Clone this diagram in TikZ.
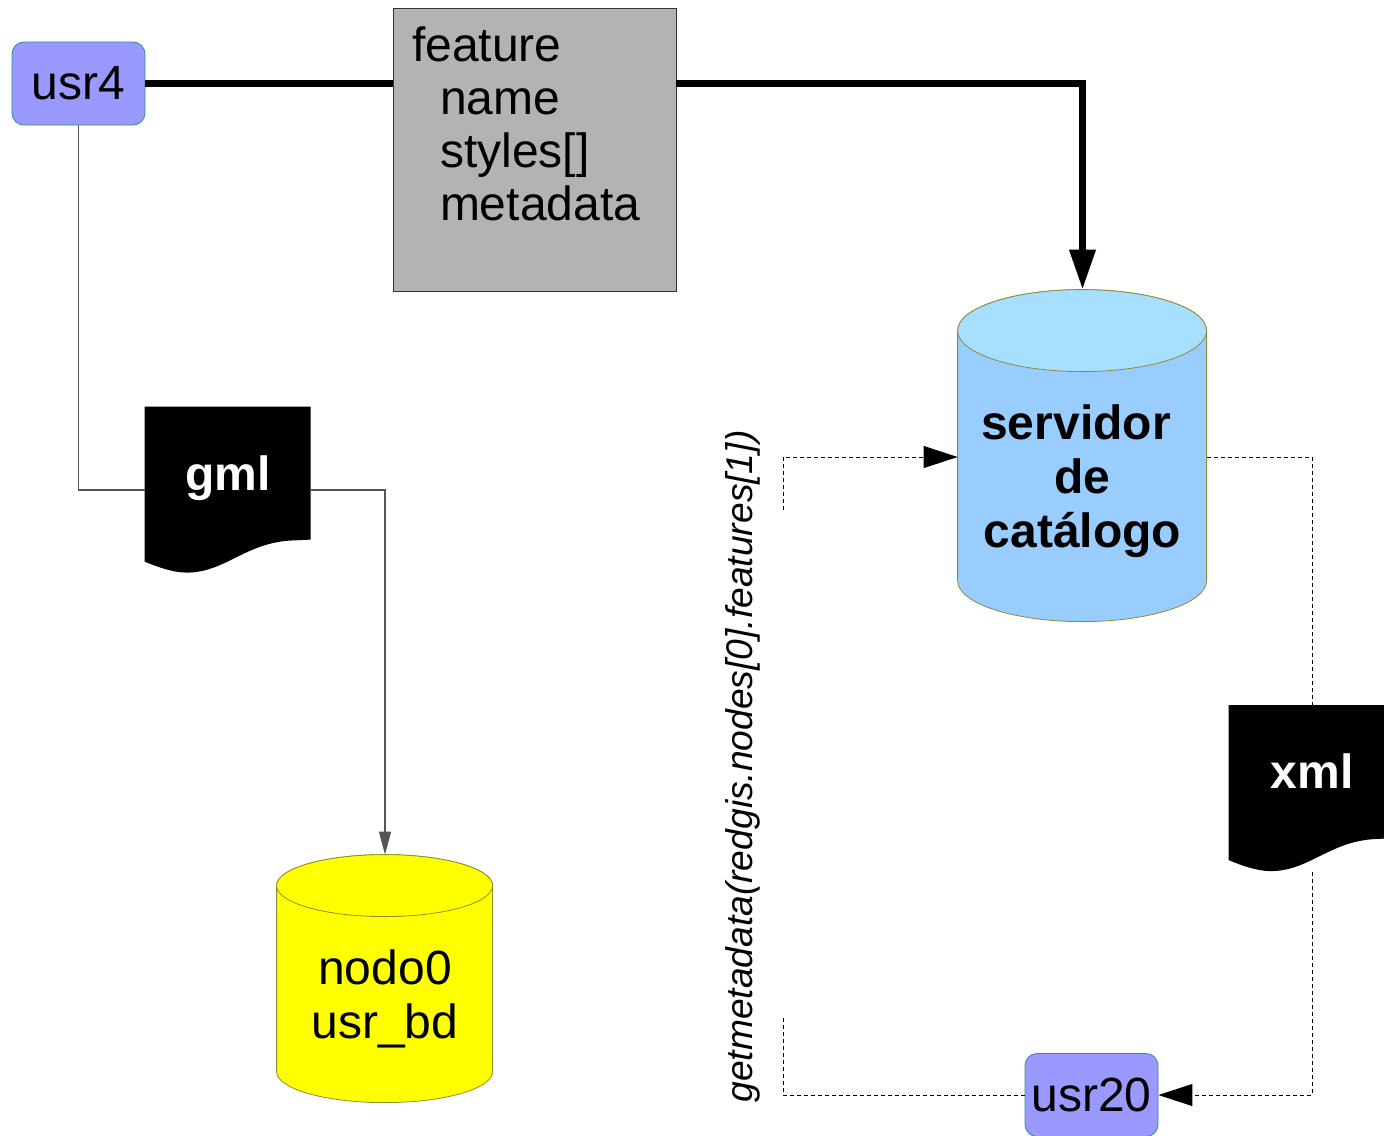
\documentclass[tikz,border=0pt]{standalone}
\usepackage{fontspec}
\setmainfont{Liberation Sans}
\usetikzlibrary{arrows.meta, backgrounds}
\definecolor{usrfill}{HTML}{9999FF}
\definecolor{usrline}{HTML}{338899}
\definecolor{featfill}{HTML}{B3B3B3}
\definecolor{featline}{HTML}{333333}
\definecolor{servbody}{HTML}{99CCFF}
\definecolor{servtop}{HTML}{A6DFFF}
\definecolor{dbyellow}{HTML}{FFFF00}
\definecolor{dbline}{HTML}{8C8C33}
\definecolor{thingray}{HTML}{555555}
\tikzstyle{usr} = [rectangle, rounded corners=6pt, minimum width=66.5pt, minimum height=41.5pt, inner sep=2pt, fill=usrfill, draw=usrline, font=\fontsize{24}{28}\selectfont]
\tikzstyle{featbox} = [rectangle, minimum width=141.5pt, minimum height=141.5pt, fill=featfill, draw=featline]
\tikzstyle{db} = [rectangle, inner sep=0pt]
\tikzstyle{doc} = [rectangle, minimum width=83pt, minimum height=83pt, inner sep=0pt, text=white, font=\bfseries\fontsize{24}{28}\selectfont, text height=0pt, text depth=0pt]
\tikzstyle{thickarrow} = [line width=3.5pt, -{Triangle[length=20pt,width=12.5pt]}]
\tikzstyle{thinline} = [thingray, line width=0.7pt]
\tikzstyle{thinarrow} = [thinline, -{Triangle[length=11.5pt,width=6pt]}]
\tikzstyle{dotline} = [line width=0.5pt, dash pattern=on 2pt off 1.5pt]
\tikzstyle{dotarrow} = [dotline, -{Triangle[length=17pt,width=11pt]}]
% cylinder: node, width, height, cap radius (px), body and top colours
\newcommand{\dbdraw}[6]{%
  \begin{scope}[shift={(#1.north west)}]
    \filldraw[fill=#5, draw=dbline] (0,#4) -- (0,#3-#4) arc[start angle=180, end angle=360, x radius=#2*0.25pt, y radius=#4*0.5pt] -- (#2,#4) arc[start angle=0, end angle=180, x radius=#2*0.25pt, y radius=#4*0.5pt] -- cycle;
    \filldraw[fill=#6, draw=dbline] (#2/2,#4) ellipse[x radius=#2*0.25pt, y radius=#4*0.5pt];
  \end{scope}}
% document sheet with wavy bottom
\newcommand{\docdraw}[1]{%
  \fill[black, shift={(#1.north west)}] (0,0) -- (166,0) -- (166,133) -- (145,134) .. controls (100,137) and (80,166) .. (42,166) .. controls (28,166) and (12,160) .. (0,155) -- cycle;}

\begin{document}
\begin{tikzpicture}[x=0.5pt, y=-0.5pt]
\useasboundingbox (0,0) rectangle (1384,1135);

\node (usr4) [usr] at (78.5,83.5) {usr4};
\node (feat) [featbox] at (534.5,149.5) {};
\node (feattxt) [anchor=north west, inner sep=0pt, align=left, font=\fontsize{24}{26.5}\selectfont] at ([xshift=9.5pt,yshift=-9.5pt]feat.north west) {feature\\\hspace*{14pt}name\\\hspace*{14pt}styles[]\\\hspace*{14pt}metadata};
\node (serv) [db, minimum width=124.5pt, minimum height=166pt] at (1082.5,456) {};
\node (servtxt) [align=center, inner sep=0pt, font=\bfseries\fontsize{24}{27}\selectfont] at ([yshift=-12.5pt]serv.center) {servidor\hspace*{6.5pt}\\de\hspace*{6.5pt}\\catálogo};
\node (gml) [doc] at (228,490) {gml};
\node (nodo) [db, minimum width=108pt, minimum height=124pt] at (385,979) {};
\node (nodotxt) [align=center, inner sep=0pt, font=\fontsize{24}{27}\selectfont] at ([yshift=-10pt]nodo.center) {nodo0\\usr\_bd};
\node (xml) [doc] at (1312,788.5) {xml};
\node (usr20) [usr] at (1091.5,1095) {usr20};
\node (getlbl) [rotate=90, anchor=base west, inner sep=0pt, font=\itshape\fontsize{18.6}{22}\selectfont] at (752,1103) {getmetadata(redgis.nodes[0].features[1])};

\begin{scope}[on background layer]
\dbdraw{serv}{249}{332}{41}{servbody}{servtop}
\dbdraw{nodo}{216}{248}{31}{dbyellow}{dbyellow}
\docdraw{gml}
\docdraw{xml}
\end{scope}

\coordinate (lbot) at (783,1095);
\coordinate (lgapb) at (783,1016);
\coordinate (lgapt) at (783,510);
\coordinate (ltop) at (783,457);

\draw [line width=3.5pt] (usr4.east) -- (usr4.east -| feat.west);
\draw [thickarrow] (feat.east |- usr4.east) -| (serv.north);
\draw [thinline] (usr4.south) |- (gml.west);
\draw [thinarrow] (gml.east) -| (nodo.north);
\draw [dotline] (usr20.west) -- (lbot) -- (lgapb);
\draw [dotarrow] (lgapt) -- (ltop) -- (serv.west |- ltop);
\draw [dotline] (serv.east |- ltop) -| (xml.north);
\draw [dotarrow] (xml.south) |- (usr20.east);

\end{tikzpicture}
\end{document}
